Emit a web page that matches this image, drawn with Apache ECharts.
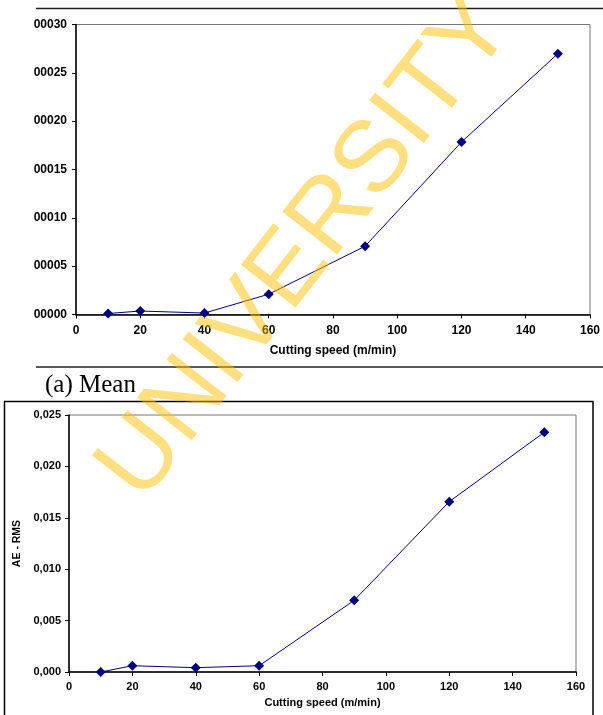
<!DOCTYPE html>
<html><head><meta charset="utf-8">
<script src="https://cdn.jsdelivr.net/npm/echarts@6/dist/echarts.min.js"></script>
<style>html,body{margin:0;padding:0;background:#fff}#c{width:603px;height:715px}</style>
</head><body><div id="c"></div>
<script>
// ---- data ----
const speeds = [10, 20, 40, 60, 90, 120, 150];
const meanValues = [0.0000010, 0.0000036, 0.0000015, 0.0000210, 0.0000707, 0.0001784, 0.0002698];
const rmsValues = [0.00000, 0.00061, 0.00042, 0.00061, 0.00697, 0.01657, 0.02332];
const xRange = [0, 160, 20];
const meanRange = [0, 0.0003, 0.00005];
const rmsRange = [0, 0.025, 0.005];
const xTitle = 'Cutting speed (m/min)';
const rmsTitle = 'AE - RMS';
const caption = '(a) Mean';
const watermark = 'UNIVERSITY OF GHANA';

const pairs = (xs, ys) => xs.map((x, i) => [x, ys[i]]);
const F = 'Arial, "Liberation Sans", sans-serif';
const lineColor = '#000080';

function xAxisDef(gi, fs, margin, gap) {
  return {
    gridIndex: gi, type: 'value', min: xRange[0], max: xRange[1], interval: xRange[2],
    name: xTitle, nameLocation: 'middle', nameGap: gap,
    nameTextStyle: {fontFamily: F, fontWeight: 'bold', fontSize: fs, color: '#000'},
    axisLine: {show: true, onZero: false, lineStyle: {color: '#000', width: 1.5}},
    axisTick: {show: true, length: 4, lineStyle: {color: '#000', width: 1}},
    axisLabel: {fontFamily: F, fontWeight: 'bold', fontSize: fs, color: '#000', margin: margin},
    splitLine: {show: false}
  };
}

const chart = echarts.init(document.getElementById('c'), null, {renderer: 'canvas'});
chart.setOption({
  animation: false,
  backgroundColor: '#fff',
  grid: [
    {left: 76, top: 24.5, width: 515, height: 290, show: true, borderColor: '#777', borderWidth: 1, backgroundColor: 'transparent'},
    {left: 69, top: 415, width: 507, height: 257, show: true, borderColor: '#777', borderWidth: 1, backgroundColor: 'transparent'}
  ],
  xAxis: [xAxisDef(0, 12, 10, 30), xAxisDef(1, 11, 9, 25)],
  yAxis: [
    {
      gridIndex: 0, type: 'value', min: meanRange[0], max: meanRange[1], interval: meanRange[2],
      axisLine: {show: true, lineStyle: {color: '#000', width: 1.5}},
      axisTick: {show: true, length: 4, lineStyle: {color: '#000', width: 1}},
      axisLabel: {fontFamily: F, fontWeight: 'bold', fontSize: 12, color: '#000', margin: 9,
        formatter: v => v.toFixed(5).slice(2)},
      splitLine: {show: false}
    },
    {
      gridIndex: 1, type: 'value', min: rmsRange[0], max: rmsRange[1], interval: rmsRange[2],
      name: rmsTitle, nameLocation: 'middle', nameGap: 43, nameRotate: 90,
      nameTextStyle: {fontFamily: F, fontWeight: 'bold', fontSize: 10.5, color: '#000'},
      axisLine: {show: true, lineStyle: {color: '#000', width: 1.5}},
      axisTick: {show: true, length: 4, lineStyle: {color: '#000', width: 1}},
      axisLabel: {fontFamily: F, fontWeight: 'bold', fontSize: 11, color: '#000', margin: 8,
        formatter: v => v.toFixed(3).replace('.', ',')},
      splitLine: {show: false}
    }
  ],
  series: [
    {type: 'line', xAxisIndex: 0, yAxisIndex: 0, data: pairs(speeds, meanValues),
      symbol: 'diamond', symbolSize: 10, itemStyle: {color: lineColor},
      lineStyle: {color: lineColor, width: 1}},
    {type: 'line', xAxisIndex: 1, yAxisIndex: 1, data: pairs(speeds, rmsValues),
      symbol: 'diamond', symbolSize: 10, itemStyle: {color: lineColor},
      lineStyle: {color: lineColor, width: 1}}
  ],
  graphic: [
    {type: 'line', shape: {x1: 36, y1: 8.5, x2: 603, y2: 8.5}, style: {stroke: '#222', lineWidth: 1.5}, z: 10},
    {type: 'line', shape: {x1: 36, y1: 367, x2: 603, y2: 367}, style: {stroke: '#222', lineWidth: 1.5}, z: 10},
    {type: 'rect', shape: {x: 4.5, y: 401.5, width: 588.5, height: 330}, style: {stroke: '#000', lineWidth: 1.5, fill: null}, z: 10},
    {type: 'text', x: 45, y: 385, style: {text: caption, font: '25px "Liberation Serif", "Times New Roman", serif',
      fill: '#000', textAlign: 'left', textVerticalAlign: 'middle'}, z: 10},
    {type: 'text', x: 120, y: 487, rotation: 52 * Math.PI / 180, silent: true,
      style: {text: watermark, font: '101px "Liberation Sans", Arial, sans-serif', fill: '#FFC000', opacity: 0.5,
        textAlign: 'left', textVerticalAlign: 'middle'}, z: 100}
  ]
});
</script></body></html>
